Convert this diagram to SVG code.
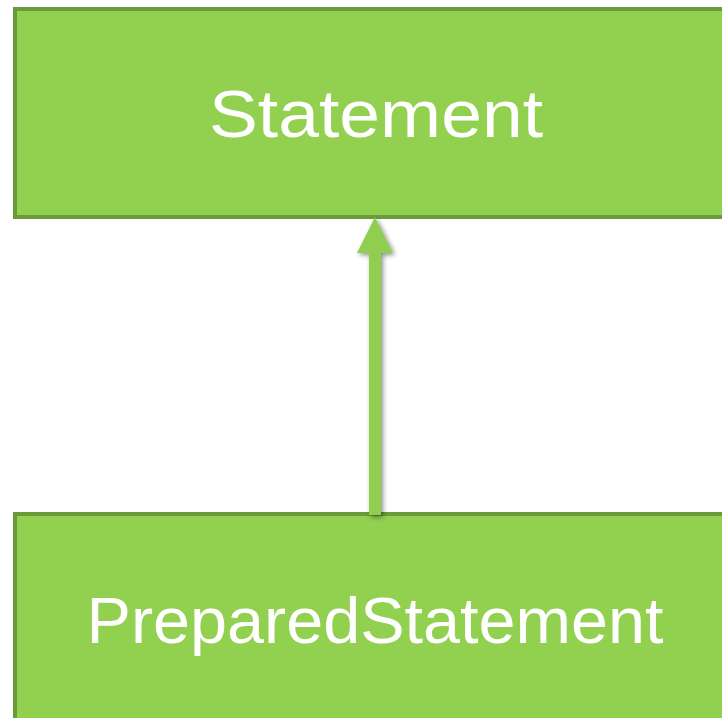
<svg xmlns="http://www.w3.org/2000/svg" width="722" height="718" viewBox="0 0 722 718">
<style>
.box{fill:#92d050;stroke:#6b9a3b;stroke-width:4}
.lbl{font-family:"Liberation Sans",Arial,sans-serif;fill:#ffffff;text-anchor:middle}
</style>
<defs>
<filter id="sh" x="-50%" y="-10%" width="200%" height="120%">
<feGaussianBlur in="SourceAlpha" stdDeviation="2.5"/>
<feOffset dx="2" dy="2" result="b"/>
<feComponentTransfer><feFuncA type="linear" slope="0.45"/></feComponentTransfer>
<feMerge><feMergeNode/><feMergeNode in="SourceGraphic"/></feMerge>
</filter>
</defs>
<rect width="722" height="718" fill="#ffffff"/>
<g id="statement">
<rect class="box" x="15" y="9" width="720" height="208"/>
<text class="lbl" x="376" y="137" font-size="66" textLength="334" lengthAdjust="spacingAndGlyphs">Statement</text>
</g>
<g id="prepared-statement">
<rect class="box" x="15" y="514" width="720" height="220"/>
<text class="lbl" x="375" y="643" font-size="64" textLength="577" lengthAdjust="spacingAndGlyphs">PreparedStatement</text>
</g>
<g id="connectors">
<path d="M369 515 L369 253 L357 253 L375 217 L393 253 L381 253 L381 515 Z" fill="#8fce4f" filter="url(#sh)"/>
</g>
</svg>
